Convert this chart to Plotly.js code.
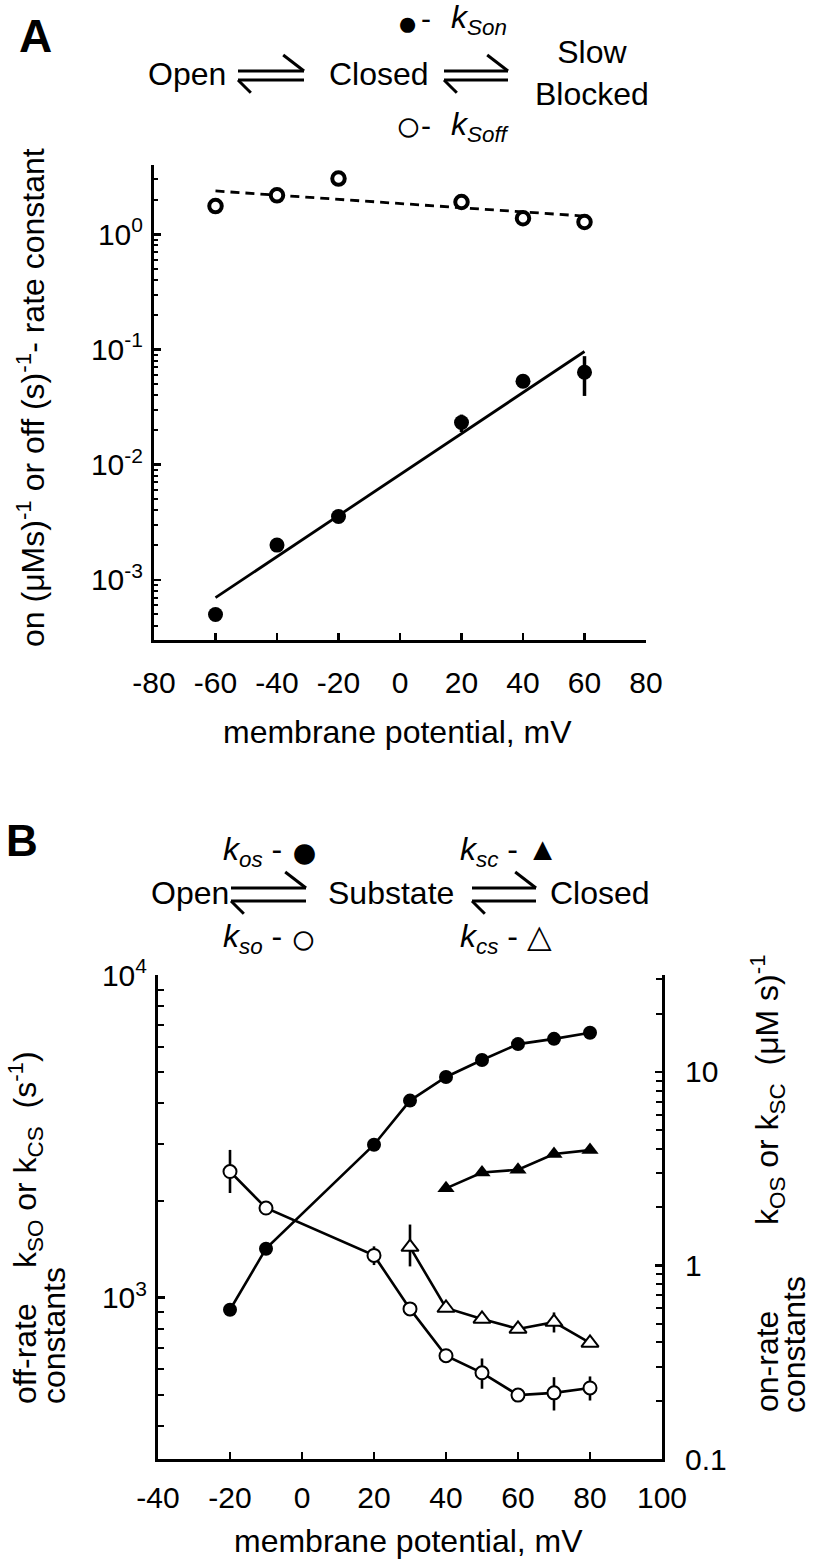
<!DOCTYPE html>
<html>
<head>
<meta charset="utf-8">
<script src="https://cdn.plot.ly/plotly-3.0.1.min.js"></script>
<style>html,body{margin:0;padding:0;background:#fff;}#chart{width:816px;height:1560px;}</style>
</head>
<body>
<div id="chart"></div>
<script>
// ---------- Panel A data ----------
const vA = [-60, -40, -20, 20, 40, 60];
const kSon = [5.0e-4, 2.0e-3, 3.55e-3, 0.0232, 0.053, 0.0635];
const kSonErr = [0, 0, 0, 0.004, 0, 0.024];
const kSoff = [1.76, 2.18, 3.05, 1.91, 1.38, 1.28];
const fitOnX = [-60, 60];
const fitOnY = [7.0e-4, 0.096];
const fitOffX = [-60, 60];
const fitOffY = [2.38, 1.44];
const xTicksA = [-80, -60, -40, -20, 0, 20, 40, 60, 80];
const xTextA = ['-80', '-60', '-40', '-20', '0', '20', '40', '60', '80'];
const yTicksA = [1e-3, 1e-2, 1e-1, 1];
const yTextA = ['10<sup>-3</sup>', '10<sup>-2</sup>', '10<sup>-1</sup>', '10<sup>0</sup>'];

// ---------- Panel B data ----------
const vOS = [-20, -10, 20, 30, 40, 50, 60, 70, 80];
const kOS = [0.59, 1.22, 4.2, 7.1, 9.4, 11.5, 13.9, 14.8, 15.9];
const vSO = [-20, -10, 20, 30, 40, 50, 60, 70, 80];
const kSO = [2460, 1896, 1352, 923, 661, 585, 499, 507, 525];
const kSOErrPlus = [410, 0, 90, 0, 0, 63, 20, 60, 45];
const kSOErrMinus = [350, 0, 90, 0, 0, 63, 20, 60, 45];
const vSC = [40, 50, 60, 70, 80];
const kSC = [2.50, 3.02, 3.12, 3.76, 3.94];
const vCS = [30, 40, 50, 60, 70, 80];
const kCS = [1435, 929, 859, 800, 840, 724];
const kCSErrPlus = [250, 0, 0, 0, 60, 0];
const kCSErrMinus = [185, 0, 0, 0, 60, 0];
const xTicksB = [-40, -20, 0, 20, 40, 60, 80, 100];
const xTextB = ['-40', '-20', '0', '20', '40', '60', '80', '100'];
const yTicksBL = [1000, 10000];
const yTextBL = ['10<sup>3</sup>', '10<sup>4</sup>'];
const yTicksBR = [0.1, 1, 10];
const yTextBR = ['0.1', '1', '10'];

// ---------- helpers ----------
const W = 816, H = 1560;
const px = x => x / W;
const py = y => 1 - y / H;
function minorDigits(lo, hi) {
  const out = [];
  for (let e = Math.floor(Math.log10(lo)); e <= Math.ceil(Math.log10(hi)); e++) {
    for (let d = 2; d <= 9; d++) {
      const v = d * Math.pow(10, e);
      if (v >= lo * 0.999 && v <= hi * 1.001) out.push(v);
    }
  }
  return out;
}
const FONT = 'Liberation Sans, Arial, Helvetica, sans-serif';
const black = '#000';

const traces = [
  // Panel A fits
  {x: fitOnX, y: fitOnY, mode: 'lines', line: {color: black, width: 2.8}, xaxis: 'x', yaxis: 'y'},
  {x: fitOffX, y: fitOffY, mode: 'lines', line: {color: black, width: 2.8, dash: '9px,6px'}, xaxis: 'x', yaxis: 'y'},
  // Panel A points
  {x: vA, y: kSon, mode: 'markers', marker: {symbol: 'circle', size: 15, color: black},
   error_y: {type: 'data', array: kSonErr, visible: true, color: black, thickness: 3.5, width: 0},
   xaxis: 'x', yaxis: 'y'},
  {x: vA, y: kSoff, mode: 'markers', marker: {symbol: 'circle', size: 12.5, color: '#fff', line: {color: black, width: 4}},
   xaxis: 'x', yaxis: 'y'},
  // Panel B off-rates (left axis)
  {x: vSO, y: kSO, mode: 'lines+markers', line: {color: black, width: 2.6},
   marker: {symbol: 'circle', size: 13, color: '#fff', line: {color: black, width: 2}},
   error_y: {type: 'data', array: kSOErrPlus, arrayminus: kSOErrMinus, visible: true, color: black, thickness: 2.6, width: 0},
   xaxis: 'x2', yaxis: 'y2'},
  {x: vCS, y: kCS, mode: 'lines+markers', line: {color: black, width: 2.6},
   marker: {symbol: 'triangle-up', size: 15, color: '#fff', line: {color: black, width: 2}},
   error_y: {type: 'data', array: kCSErrPlus, arrayminus: kCSErrMinus, visible: true, color: black, thickness: 2.6, width: 0},
   xaxis: 'x2', yaxis: 'y2'},
  // Panel B on-rates (right axis)
  {x: vOS, y: kOS, mode: 'lines+markers', line: {color: black, width: 2.6},
   marker: {symbol: 'circle', size: 14, color: black}, xaxis: 'x2', yaxis: 'y3'},
  {x: vSC, y: kSC, mode: 'lines+markers', line: {color: black, width: 2.6},
   marker: {symbol: 'triangle-up', size: 15, color: black}, xaxis: 'x2', yaxis: 'y3'}
];

const axBase = {
  showline: true, linecolor: black, linewidth: 3, showgrid: false, zeroline: false,
  ticks: 'inside', ticklen: 7, tickwidth: 2.5, tickcolor: black,
  tickfont: {family: FONT, size: 30, color: black}, fixedrange: true
};

const layout = {
  width: W, height: H, autosize: false,
  margin: {l: 0, r: 0, t: 0, b: 0, pad: 0},
  paper_bgcolor: '#fff', plot_bgcolor: 'rgba(0,0,0,0)',
  showlegend: false, hovermode: false,
  font: {family: FONT, color: black},
  xaxis: Object.assign({}, axBase, {
    domain: [px(154), px(646)], anchor: 'y', range: [-80, 80],
    tickmode: 'array', tickvals: xTicksA, ticktext: xTextA, ticklabelstandoff: 14
  }),
  yaxis: Object.assign({}, axBase, {
    domain: [py(640), py(165)], anchor: 'x', type: 'log',
    range: [Math.log10(3e-4), Math.log10(4)],
    tickmode: 'array', tickvals: yTicksA, ticktext: yTextA, ticklabelstandoff: 2,
    minor: {tickmode: 'array', tickvals: minorDigits(3e-4, 4), ticks: 'inside', ticklen: 4, tickwidth: 2, tickcolor: black}
  }),
  xaxis2: Object.assign({}, axBase, {
    domain: [px(158), px(662)], anchor: 'y2', range: [-40, 100],
    tickmode: 'array', tickvals: xTicksB, ticktext: xTextB, ticklabelstandoff: 10
  }),
  yaxis2: Object.assign({}, axBase, {
    domain: [py(1459), py(975)], anchor: 'x2', type: 'log', range: [2.5, 4],
    tickmode: 'array', tickvals: yTicksBL, ticktext: yTextBL, ticklabelstandoff: 2,
    minor: {tickmode: 'array', tickvals: minorDigits(316, 10000), ticks: 'inside', ticklen: 6, tickwidth: 2, tickcolor: black}
  }),
  yaxis3: Object.assign({}, axBase, {
    overlaying: 'y2', side: 'right', anchor: 'x2', type: 'log', range: [-1, 1.5],
    tickmode: 'array', tickvals: yTicksBR, ticktext: yTextBR, ticklabelstandoff: 14,
    minor: {tickmode: 'array', tickvals: minorDigits(0.1, 31.6), ticks: 'inside', ticklen: 6, tickwidth: 2, tickcolor: black}
  }),
  shapes: [],
  annotations: []
};

function txt(text, x, y, size, opts) {
  return Object.assign({
    text: text, xref: 'paper', yref: 'paper', x: px(x), y: py(y),
    xanchor: 'center', yanchor: 'middle', showarrow: false,
    font: {family: FONT, size: size, color: black}
  }, opts || {});
}
function harpoons(x1, x2, yTop, yBot, barb) {
  const L = {color: black, width: 3};
  const s = [
    {type: 'line', xref: 'paper', yref: 'paper', x0: px(x1), x1: px(x2), y0: py(yTop), y1: py(yTop), line: L},
    {type: 'line', xref: 'paper', yref: 'paper', x0: px(x2), x1: px(x2 - barb * 1.3), y0: py(yTop), y1: py(yTop - barb), line: L},
    {type: 'line', xref: 'paper', yref: 'paper', x0: px(x1), x1: px(x2), y0: py(yBot), y1: py(yBot), line: L},
    {type: 'line', xref: 'paper', yref: 'paper', x0: px(x1), x1: px(x1 + barb * 0.8), y0: py(yBot), y1: py(yBot + barb * 0.8), line: L}
  ];
  layout.shapes.push(...s);
}

// Panel A scheme
harpoons(238, 304, 71, 80, 16);
harpoons(444, 508, 71, 80, 16);
layout.annotations.push(
  txt('<b>A</b>', 35, 36, 46),
  txt('●', 407, 23, 35),
  txt('-', 426, 19, 30),
  txt('<i>k<sub>Son</sub></i>', 449, 20, 32, {xanchor: 'left'}),
  txt('Open', 187, 74, 32),
  txt('Closed', 379, 74, 32),
  txt('Slow<br>Blocked', 592, 73, 32),
  txt('○', 408, 125, 44),
  txt('-', 426, 125, 30),
  txt('<i>k<sub>Soff</sub></i>', 449, 126, 32, {xanchor: 'left'}),
  txt('on (μMs)<sup>-1</sup> or off (s)<sup>-1</sup>- rate constant', 31, 398, 32, {textangle: -90}),
  txt('membrane potential, mV', 397, 732, 32)
);

// Panel B scheme
harpoons(231, 306, 888, 901, 16);
harpoons(472, 536, 888, 901, 16);
layout.annotations.push(
  txt('<b>B</b>', 22, 840, 44),
  txt('<i>k<sub>os</sub></i> -', 221, 852, 32, {xanchor: 'left'}),
  txt('●', 304, 852, 48),
  txt('<i>k<sub>sc</sub></i> - ▲', 458, 852, 32, {xanchor: 'left'}),
  txt('Open', 190, 893, 32),
  txt('Substate', 391, 893, 32),
  txt('Closed', 600, 893, 32),
  txt('<i>k<sub>so</sub></i> -', 221, 938, 32, {xanchor: 'left'}),
  txt('○', 303, 938, 44),
  txt('<i>k<sub>cs</sub></i> - △', 458, 938, 32, {xanchor: 'left'}),
  txt('k<sub>SO</sub> or k<sub>CS</sub>  (s<sup>-1</sup>)', 25, 1160, 32, {textangle: -90}),
  txt('off-rate', 25, 1354, 32, {textangle: -90}),
  txt('constants', 54, 1336, 32, {textangle: -90}),
  txt('k<sub>OS</sub> or k<sub>SC</sub>  (μM s)<sup>-1</sup>', 767, 1090, 32, {textangle: -90}),
  txt('on-rate', 767, 1362, 32, {textangle: -90}),
  txt('constants', 794, 1345, 32, {textangle: -90}),
  txt('membrane potential, mV', 408, 1541, 32)
);

Plotly.newPlot('chart', traces, layout, {staticPlot: true, displayModeBar: false});
</script>
</body>
</html>
